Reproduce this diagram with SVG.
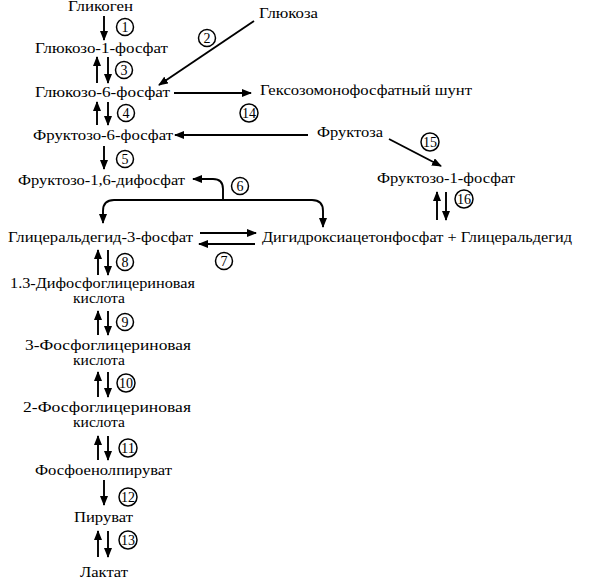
<svg xmlns="http://www.w3.org/2000/svg" width="596" height="585" viewBox="0 0 596 585">
<style>
text{font-family:"Liberation Serif","DejaVu Serif","Times New Roman",serif;font-size:14px;fill:#000}
.c text{font-size:14px;text-anchor:middle}
.c circle{fill:#fff;stroke:#000;stroke-width:1.5}
.e{stroke:#000;stroke-width:1.9;fill:none;marker-end:url(#ah)}
</style>
<defs>
<marker id="ah" markerUnits="userSpaceOnUse" markerWidth="10" markerHeight="8" refX="9" refY="4" orient="auto">
<path d="M0,0 L10,4 L0,8 z" fill="#000"/>
</marker>
</defs>
<rect width="596" height="585" fill="#fff"/>
<g id="connectors">
<line class="e" x1="104" y1="16" x2="104" y2="40"/>
<line class="e" x1="97" y1="83" x2="97" y2="57"/>
<line class="e" x1="108" y1="57" x2="108" y2="83"/>
<line class="e" x1="254" y1="21" x2="159" y2="85"/>
<line class="e" x1="174" y1="93" x2="251" y2="93"/>
<line class="e" x1="97" y1="125" x2="97" y2="102"/>
<line class="e" x1="108" y1="102" x2="108" y2="125"/>
<line class="e" x1="308" y1="135" x2="175" y2="135"/>
<line class="e" x1="104" y1="146" x2="104" y2="169"/>
<path class="e" d="M223,200 L223,189 Q223,179 213,179 L193,179"/>
<path class="e" d="M223,200 L114,200 Q103,200 103,211 L103,223"/>
<path class="e" d="M223,200 L312,200 Q323,200 323,211 L323,227"/>
<line class="e" x1="200" y1="233" x2="256" y2="233"/>
<line class="e" x1="255" y1="244" x2="199" y2="244"/>
<line class="e" x1="98" y1="275" x2="98" y2="250"/>
<line class="e" x1="108" y1="250" x2="108" y2="275"/>
<line class="e" x1="98" y1="335" x2="98" y2="311"/>
<line class="e" x1="108" y1="311" x2="108" y2="335"/>
<line class="e" x1="98" y1="397" x2="98" y2="372"/>
<line class="e" x1="108" y1="372" x2="108" y2="397"/>
<line class="e" x1="98" y1="460" x2="98" y2="436"/>
<line class="e" x1="108" y1="436" x2="108" y2="460"/>
<line class="e" x1="104" y1="480" x2="104" y2="505"/>
<line class="e" x1="98" y1="557" x2="98" y2="531"/>
<line class="e" x1="108" y1="531" x2="108" y2="557"/>
<line class="e" x1="389" y1="139" x2="441" y2="166"/>
<line class="e" x1="437" y1="220" x2="437" y2="192"/>
<line class="e" x1="446" y1="192" x2="446" y2="220"/>
</g>
<g id="enzymes" class="c">
<g id="e1"><circle cx="125" cy="27" r="8.5"/><text x="125" y="32">1</text></g>
<g id="e2"><circle cx="207" cy="38" r="8.5"/><text x="207" y="43">2</text></g>
<g id="e3"><circle cx="124" cy="70" r="8.5"/><text x="124" y="75">3</text></g>
<g id="e4"><circle cx="126" cy="113" r="8.5"/><text x="126" y="118">4</text></g>
<g id="e5"><circle cx="125" cy="159" r="8.5"/><text x="125" y="164">5</text></g>
<g id="e6"><circle cx="240" cy="186" r="8.5"/><text x="240" y="191">6</text></g>
<g id="e7"><circle cx="224" cy="261" r="8.5"/><text x="224" y="266">7</text></g>
<g id="e8"><circle cx="125" cy="262" r="8.5"/><text x="125" y="267">8</text></g>
<g id="e9"><circle cx="125" cy="322" r="8.5"/><text x="125" y="327">9</text></g>
<g id="e10"><circle cx="126" cy="383" r="9"/><text x="126" y="388" textLength="14" lengthAdjust="spacingAndGlyphs">10</text></g>
<g id="e11"><circle cx="128" cy="448" r="9"/><text x="128" y="453" textLength="14" lengthAdjust="spacingAndGlyphs">11</text></g>
<g id="e12"><circle cx="128" cy="497" r="9"/><text x="128" y="502" textLength="14" lengthAdjust="spacingAndGlyphs">12</text></g>
<g id="e13"><circle cx="128" cy="540" r="9"/><text x="128" y="545" textLength="14" lengthAdjust="spacingAndGlyphs">13</text></g>
<g id="e14"><circle cx="249" cy="113" r="9"/><text x="249" y="118" textLength="14" lengthAdjust="spacingAndGlyphs">14</text></g>
<g id="e15"><circle cx="430" cy="142" r="9"/><text x="430" y="147" textLength="14" lengthAdjust="spacingAndGlyphs">15</text></g>
<g id="e16"><circle cx="464" cy="199" r="9"/><text x="464" y="204" textLength="14" lengthAdjust="spacingAndGlyphs">16</text></g>
</g>
<g id="n-glycogen"><text x="68" y="10.5" textLength="65" lengthAdjust="spacingAndGlyphs">Гликоген</text></g>
<g id="n-g1p"><text x="35" y="53" textLength="133" lengthAdjust="spacingAndGlyphs">Глюкозо-1-фосфат</text></g>
<g id="n-glucose"><text x="259" y="18" textLength="59" lengthAdjust="spacingAndGlyphs">Глюкоза</text></g>
<g id="n-g6p"><text x="35" y="97" textLength="135" lengthAdjust="spacingAndGlyphs">Глюкозо-6-фосфат</text></g>
<g id="n-shunt"><text x="260" y="95" textLength="212" lengthAdjust="spacingAndGlyphs">Гексозомонофосфатный шунт</text></g>
<g id="n-f6p"><text x="33" y="140" textLength="140" lengthAdjust="spacingAndGlyphs">Фруктозо-6-фосфат</text></g>
<g id="n-fructose"><text x="317" y="137" textLength="66" lengthAdjust="spacingAndGlyphs">Фруктоза</text></g>
<g id="n-f16dp"><text x="18" y="185" textLength="167" lengthAdjust="spacingAndGlyphs">Фруктозо-1,6-дифосфат</text></g>
<g id="n-f1p"><text x="377" y="183" textLength="138" lengthAdjust="spacingAndGlyphs">Фруктозо-1-фосфат</text></g>
<g id="n-g3p"><text x="8" y="242" textLength="185" lengthAdjust="spacingAndGlyphs">Глицеральдегид-3-фосфат</text></g>
<g id="n-dhap"><text x="262" y="242" textLength="310" lengthAdjust="spacingAndGlyphs">Дигидроксиацетонфосфат + Глицеральдегид</text></g>
<g id="n-13bpg"><text x="10" y="288" textLength="185" lengthAdjust="spacingAndGlyphs">1.3-Дифосфоглицериновая</text><text x="73" y="303" textLength="52" lengthAdjust="spacingAndGlyphs">кислота</text></g>
<g id="n-3pg"><text x="25" y="350" textLength="166" lengthAdjust="spacingAndGlyphs">3-Фосфоглицериновая</text><text x="73" y="365" textLength="52" lengthAdjust="spacingAndGlyphs">кислота</text></g>
<g id="n-2pg"><text x="23" y="412" textLength="168" lengthAdjust="spacingAndGlyphs">2-Фосфоглицериновая</text><text x="73" y="427" textLength="52" lengthAdjust="spacingAndGlyphs">кислота</text></g>
<g id="n-pep"><text x="35" y="475" textLength="137" lengthAdjust="spacingAndGlyphs">Фосфоенолпируват</text></g>
<g id="n-pyruvate"><text x="74" y="522" textLength="59" lengthAdjust="spacingAndGlyphs">Пируват</text></g>
<g id="n-lactate"><text x="80" y="577" textLength="48" lengthAdjust="spacingAndGlyphs">Лактат</text></g>
</svg>
